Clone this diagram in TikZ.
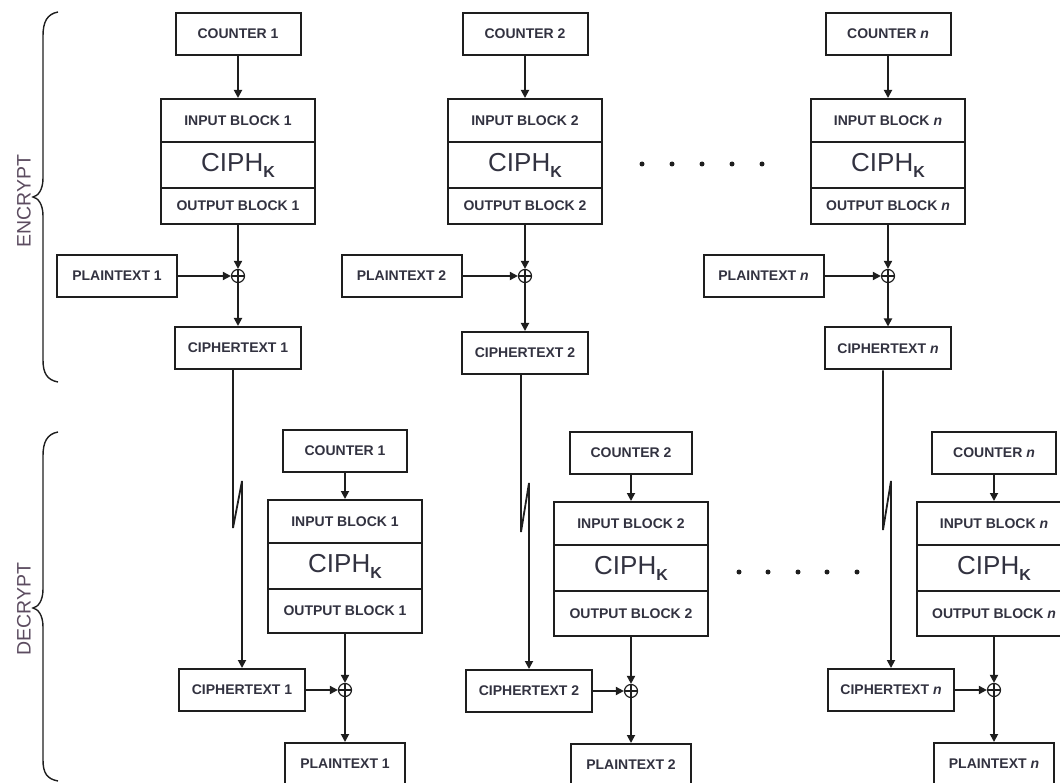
\documentclass[tikz,border=0pt]{standalone}
\usepackage{fontspec}
\setmainfont{Liberation Sans}
\usetikzlibrary{arrows.meta,calc}
\definecolor{txt}{RGB}{50,50,64}
\definecolor{side}{RGB}{92,76,96}
\definecolor{ln}{RGB}{30,30,30}
\newcommand{\ciph}{{\mdseries\fontsize{26}{28}\selectfont CIPH\raisebox{-6pt}{\fontsize{16}{16}\selectfont\bfseries K}}}
\begin{document}
\begin{tikzpicture}[x=1pt,y=-1pt,
  box/.style={draw=ln,line width=2pt,inner sep=0pt,text=txt,font=\fontsize{14}{16}\selectfont\bfseries},
  cnt/.style={box,minimum width=125,minimum height=42},
  pt/.style={box,minimum width=120,minimum height=42},
  ct/.style={box,minimum width=126,minimum height=42},
  rowin/.style={box,minimum width=154},
  xor/.style={circle,draw=ln,line width=1.2pt,minimum size=13,inner sep=0pt,
    path picture={\draw[ln,line width=1.2pt] (path picture bounding box.west) -- (path picture bounding box.east)
      (path picture bounding box.north) -- (path picture bounding box.south);}},
  arr/.style={draw=ln,line width=1.8pt,-{Triangle[length=8pt,width=8pt]}},
  brace/.style={draw=ln,line width=1.4pt},
  side/.style={text=side,font=\fontsize{19.5}{22}\selectfont,rotate=90},
  dot/.style={circle,fill=ln,inner sep=0pt,minimum size=5}]
\useasboundingbox (0,0) rectangle (1060,783);

% ---------------- braces and side labels
\draw[brace] (58,12) .. controls (47,14) and (43,22) .. (43,36) -- (43,178)
  .. controls (43,190) and (38,196) .. (33,197) .. controls (38,198) and (43,204) .. (43,216)
  -- (43,360) .. controls (43,373) and (47,380) .. (58,382);
\node[side] (enc) at (24,201) {ENCRYPT};
\draw[brace] (58,432) .. controls (47,434) and (43,442) .. (43,456) -- (43,589)
  .. controls (43,601) and (38,607) .. (33,608) .. controls (38,609) and (43,615) .. (43,627)
  -- (43,760) .. controls (43,773) and (47,779) .. (58,781);
\node[side] (dec) at (24,609) {DECRYPT};

% ---------------- ENCRYPT column 1
\node[cnt] (ec1) at (238,34) {COUNTER 1};
\node[rowin,minimum height=43] (ein1) at (238,120.5) {INPUT BLOCK 1};
\node[rowin,minimum height=46] (eci1) at (238,165) {\ciph};
\node[rowin,minimum height=36] (eout1) at (238,206) {OUTPUT BLOCK 1};
\node[xor] (ex1) at (238,276) {};
\node[pt] (ept1) at (117,276) {PLAINTEXT 1};
\node[ct] (ect1) at (238,348) {CIPHERTEXT 1};
\draw[arr] (ec1.south) -- (ein1.north);
\draw[arr] (eout1.south) -- (ex1.north);
\draw[arr] (ept1.east) -- (ex1.west);
\draw[arr] (ex1.south) -- (ect1.north);

% ---------------- ENCRYPT column 2
\node[cnt] (ec2) at (525,34) {COUNTER 2};
\node[rowin,minimum height=43] (ein2) at (525,120.5) {INPUT BLOCK 2};
\node[rowin,minimum height=46] (eci2) at (525,165) {\ciph};
\node[rowin,minimum height=36] (eout2) at (525,206) {OUTPUT BLOCK 2};
\node[xor] (ex2) at (525,276) {};
\node[pt] (ept2) at (401.5,276) {PLAINTEXT 2};
\node[ct] (ect2) at (525,353) {CIPHERTEXT 2};
\draw[arr] (ec2.south) -- (ein2.north);
\draw[arr] (eout2.south) -- (ex2.north);
\draw[arr] (ept2.east) -- (ex2.west);
\draw[arr] (ex2.south) -- (ect2.north);

% ---------------- ENCRYPT column n
\node[cnt] (ecn) at (888,34) {COUNTER \textit{n}};
\node[rowin,minimum height=43] (einn) at (888,120.5) {INPUT BLOCK \textit{n}};
\node[rowin,minimum height=46] (ecin) at (888,165) {\ciph};
\node[rowin,minimum height=36] (eoutn) at (888,206) {OUTPUT BLOCK \textit{n}};
\node[xor] (exn) at (888,276) {};
\node[pt] (eptn) at (763.5,276) {PLAINTEXT \textit{n}};
\node[ct] (ectn) at (888,348.5) {CIPHERTEXT \textit{n}};
\draw[arr] (ecn.south) -- (einn.north);
\draw[arr] (eoutn.south) -- (exn.north);
\draw[arr] (eptn.east) -- (exn.west);
\draw[arr] (exn.south) -- (ectn.north);

% encrypt dots
\foreach \i/\x in {1/642,2/672,3/702,4/732,5/762}{\node[dot] (edot\i) at (\x,164) {};}

% ---------------- DECRYPT column 1
\node[cnt,minimum width=124] (dc1) at (345,451) {COUNTER 1};
\node[rowin,minimum height=43] (din1) at (345,521.5) {INPUT BLOCK 1};
\node[rowin,minimum height=46] (dci1) at (345,566) {\ciph};
\node[rowin,minimum height=44] (dout1) at (345,611) {OUTPUT BLOCK 1};
\node[xor] (dx1) at (345,690) {};
\node[ct] (dct1) at (242,690) {CIPHERTEXT 1};
\node[pt] (dpt1) at (345,764) {PLAINTEXT 1};
\draw[arr] (dc1.south) -- (din1.north);
\draw[arr] (dout1.south) -- (dx1.north);
\draw[arr] (dct1.east) -- (dx1.west);
\draw[arr] (dx1.south) -- (dpt1.north);

% ---------------- DECRYPT column 2
\node[cnt,minimum width=122] (dc2) at (631,452.5) {COUNTER 2};
\node[rowin,minimum height=43] (din2) at (631,523.5) {INPUT BLOCK 2};
\node[rowin,minimum height=46] (dci2) at (631,568) {\ciph};
\node[rowin,minimum height=45] (dout2) at (631,613.5) {OUTPUT BLOCK 2};
\node[xor] (dx2) at (631,691) {};
\node[ct] (dct2) at (529,691) {CIPHERTEXT 2};
\node[pt] (dpt2) at (631,765) {PLAINTEXT 2};
\draw[arr] (dc2.south) -- (din2.north);
\draw[arr] (dout2.south) -- (dx2.north);
\draw[arr] (dct2.east) -- (dx2.west);
\draw[arr] (dx2.south) -- (dpt2.north);

% decrypt dots
\foreach \i/\x in {1/739,2/768,3/798,4/827,5/857}{\node[dot] (ddot\i) at (\x,572) {};}

% ---------------- DECRYPT column n
\node[cnt,minimum width=124] (dcn) at (994,452.5) {COUNTER \textit{n}};
\node[rowin,minimum height=43] (dinn) at (994,523.5) {INPUT BLOCK \textit{n}};
\node[rowin,minimum height=46] (dcin) at (994,568) {\ciph};
\node[rowin,minimum height=45] (doutn) at (994,613.5) {OUTPUT BLOCK \textit{n}};
\node[xor] (dxn) at (994,690) {};
\node[ct] (dctn) at (891,690) {CIPHERTEXT \textit{n}};
\node[pt] (dptn) at (994,764) {PLAINTEXT \textit{n}};
\draw[arr] (dcn.south) -- (dinn.north);
\draw[arr] (doutn.south) -- (dxn.north);
\draw[arr] (dctn.east) -- (dxn.west);
\draw[arr] (dxn.south) -- (dptn.north);

% ---------------- long connectors with break marks
\draw[arr] ($(ect1.south)+(-5,0)$) -- (233,528) -- ($(dct1.north)+(0,-187)$) -- (dct1.north);
\draw[arr] ($(ect2.south)+(-4,0)$) -- (521,532) -- ($(dct2.north)+(0,-186)$) -- (dct2.north);
\draw[arr] ($(ectn.south)+(-5,0)$) -- (883,530) -- ($(dctn.north)+(0,-187)$) -- (dctn.north);
\end{tikzpicture}
\end{document}
